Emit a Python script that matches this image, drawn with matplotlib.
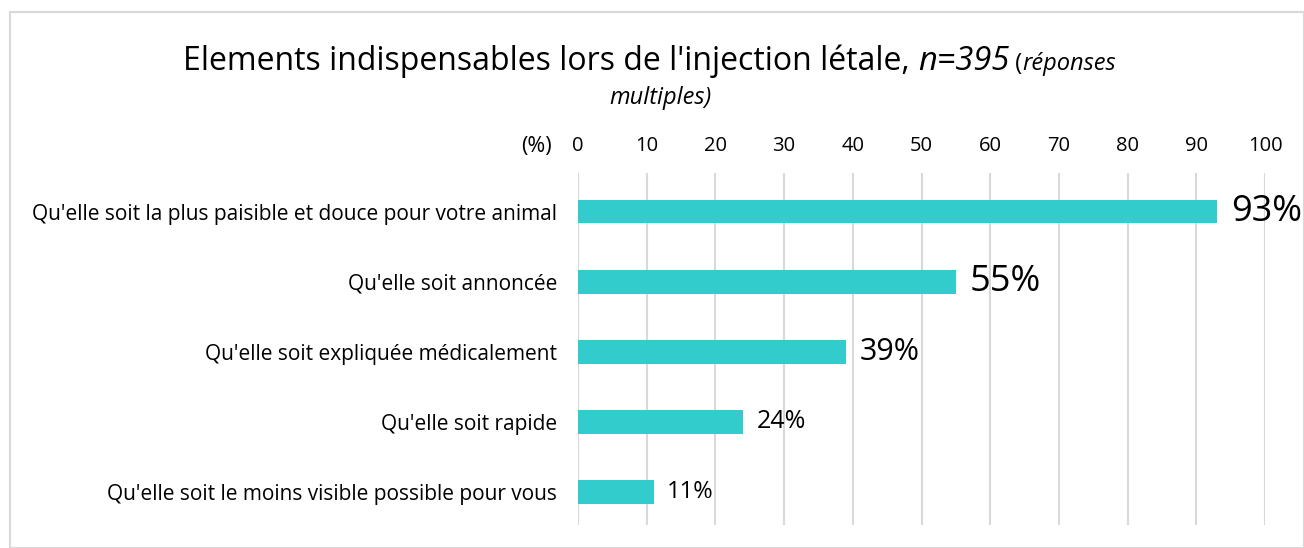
import matplotlib.pyplot as plt
from matplotlib.patches import Rectangle

plt.rcParams['font.family'] = ['Open Sans', 'DejaVu Sans']

# données
categories = [
    "Qu'elle soit la plus paisible et douce pour votre animal",
    "Qu'elle soit annoncée",
    "Qu'elle soit expliquée médicalement",
    "Qu'elle soit rapide",
    "Qu'elle soit le moins visible possible pour vous",
]
valeurs = [93, 55, 39, 24, 11]
taille_labels = [26, 26, 22, 18, 17]
graduations = [0, 10, 20, 30, 40, 50, 60, 70, 80, 90, 100]

fig = plt.figure(figsize=(13.04, 5.48), dpi=100)
fig.patches.append(Rectangle((10 / 1304, 0), 1 - 10 / 1304, 1 - 12 / 548,
                             transform=fig.transFigure, fill=False,
                             edgecolor='#d9d9d9', linewidth=1.5))

ax = fig.add_axes([578 / 1304, 23 / 548, 687 / 1304, 352 / 548])
pos = list(range(len(categories)))
ax.barh(pos, valeurs, height=0.34, color='#33cccc', zorder=3)
ax.set_xlim(0, 100)
ax.set_ylim(4.47, -0.55)
ax.set_xticks(graduations)
ax.xaxis.tick_top()
ax.tick_params(axis='x', length=0, pad=12, labelsize=14.5)
ax.tick_params(axis='y', length=0, pad=15, labelsize=15)
ax.set_yticks(pos)
ax.set_yticklabels(categories)
ax.grid(axis='x', color='#d9d9d9', linewidth=1.5, zorder=0)
for s in ax.spines.values():
    s.set_visible(False)

for y, v, fs in zip(pos, valeurs, taille_labels):
    ax.text(v + 2.0, y, f"{v}%", va='center', ha='left', fontsize=fs)

fig.text(552 / 1304, 1 - 147 / 548, "(%)", ha='right', va='center', fontsize=15.5)

# titre en plusieurs morceaux (normal / italique)
morceaux = [
    ("Elements indispensables lors de l'injection létale, ", 'normal', 23),
    ("n=395", 'italic', 23.5),
    (" (", 'normal', 17),
    ("réponses", 'italic', 17),
]
renderer = fig.canvas.get_renderer()
x = 183 / 1304
y_titre = 1 - 70 / 548
for txt, style, fs in morceaux:
    t = fig.text(x, y_titre, txt, ha='left', va='baseline', fontsize=fs, style=style)
    bb = t.get_window_extent(renderer)
    x = bb.x1 / fig.bbox.width
fig.text(660 / 1304, 1 - 98 / 548, "multiples)", ha='center', va='center',
         fontsize=17, style='italic')

fig.savefig('out.png', dpi=100)
